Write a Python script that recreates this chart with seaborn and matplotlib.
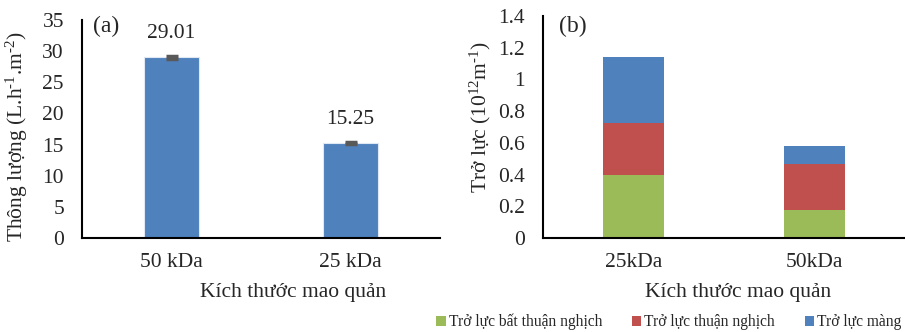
import numpy as np
import matplotlib
matplotlib.use("Agg")
import matplotlib.pyplot as plt
from matplotlib.patches import Patch
import seaborn as sns

# Panel (a): permeate flux by pore size
flux_cats = ["50 kDa", "25 kDa"]
flux_vals = [29.01, 15.25]
flux_err = [0.2, 0.2]

# Panel (b): fouling resistance components by pore size
res_cats = ["25kDa", "50kDa"]
res_irreversible = [0.395, 0.177]
res_reversible = [0.330, 0.292]
res_membrane = [0.415, 0.109]
res_names = ["Trở lực bất thuận nghịch", "Trở lực thuận nghịch", "Trở lực màng"]

GREEN = "#9BBB59"
RED = "#C0504D"
BLUE = "#4F81BD"

sns.set_theme(style="white")
plt.rcParams["font.family"] = ["Liberation Serif", "DejaVu Serif"]
plt.rcParams["mathtext.fontset"] = "custom"
plt.rcParams["mathtext.rm"] = "Liberation Serif"
plt.rcParams["mathtext.it"] = "Liberation Serif:italic"
plt.rcParams["mathtext.default"] = "regular"

fig = plt.figure(figsize=(9.05, 3.32), dpi=100)
ax_a = fig.add_axes([82 / 905, 1 - 238 / 332, (440 - 82) / 905, (238 - 20) / 332])
ax_b = fig.add_axes([543 / 905, 1 - 238 / 332, (905 - 543) / 905, (238 - 16) / 332])

FS = 15.5

# ---- (a)
sns.barplot(x=flux_cats, y=flux_vals, color=BLUE, saturation=1, width=0.31,
            ax=ax_a, errorbar=None, linewidth=0.8, edgecolor="#dfe8f3")
ax_a.errorbar(range(len(flux_cats)), flux_vals, yerr=flux_err, fmt="none",
              ecolor="#595959", elinewidth=2, capsize=4.5, capthick=2.5)
for i, v in enumerate(flux_vals):
    ax_a.annotate(f"{v:.2f}", (i, v), xytext=(0, 17), textcoords="offset points",
                  ha="center", va="center", fontsize=FS)
ax_a.set_ylim(0, 35)
ax_a.set_yticks(np.arange(0, 36, 5))
ax_a.set_xlim(-0.5, 1.5)
ax_a.set_ylabel(r"Thông lượng (L.h$^{\text{-1}}$.m$^{\text{-2}}$)", fontsize=FS)
ax_a.set_xlabel("Kích thước mao quản", fontsize=FS)
ax_a.yaxis.set_label_coords(-0.145, 0.463)
ax_a.xaxis.set_label_coords(0.589, -0.206)
ax_a.text(0.067, 0.97, "(a)", transform=ax_a.transAxes, fontsize=17,
          ha="center", va="center")

# ---- (b): stacked by overlaying cumulative totals
cum1 = np.array(res_irreversible)
cum2 = cum1 + np.array(res_reversible)
cum3 = cum2 + np.array(res_membrane)
for tops, col in [(cum3, BLUE), (cum2, RED), (cum1, GREEN)]:
    sns.barplot(x=res_cats, y=tops, color=col, saturation=1, width=0.34,
                ax=ax_b, errorbar=None, linewidth=0)
ax_b.set_ylim(0, 1.4)
ax_b.set_yticks(np.round(np.arange(0, 1.41, 0.2), 1))
ax_b.set_yticklabels(["0", "0.2", "0.4", "0.6", "0.8", "1", "1.2", "1.4"])
ax_b.set_xlim(-0.5, 1.5)
ax_b.set_ylabel(r"Trở lực (10$^{12}$m$^{\text{-1}}$)", fontsize=FS)
ax_b.set_xlabel("Kích thước mao quản", fontsize=FS)
ax_b.yaxis.set_label_coords(-0.138, 0.545)
ax_b.xaxis.set_label_coords(0.539, -0.203)
ax_b.text(0.083, 0.955, "(b)", transform=ax_b.transAxes, fontsize=17,
          ha="center", va="center")

for ax in (ax_a, ax_b):
    for side in ("top", "right"):
        ax.spines[side].set_visible(False)
    for side in ("left", "bottom"):
        ax.spines[side].set_color("black")
        ax.spines[side].set_linewidth(1.5)
    ax.tick_params(axis="y", length=0, pad=13, labelsize=FS)
    ax.tick_params(axis="x", length=0, pad=11, labelsize=FS)
    ax.grid(False)
    ax.set_facecolor("white")

handles = [Patch(facecolor=c, edgecolor="none") for c in (GREEN, RED, BLUE)]
fig.legend(handles, res_names, loc="center right", bbox_to_anchor=(0.996, 0.03),
           ncol=3, frameon=False, fontsize=11.2, handlelength=0.6,
           handleheight=0.6, handletextpad=0.2, columnspacing=1.9,
           borderpad=0, borderaxespad=0)

fig.savefig("out.png", dpi=100, facecolor="white")
